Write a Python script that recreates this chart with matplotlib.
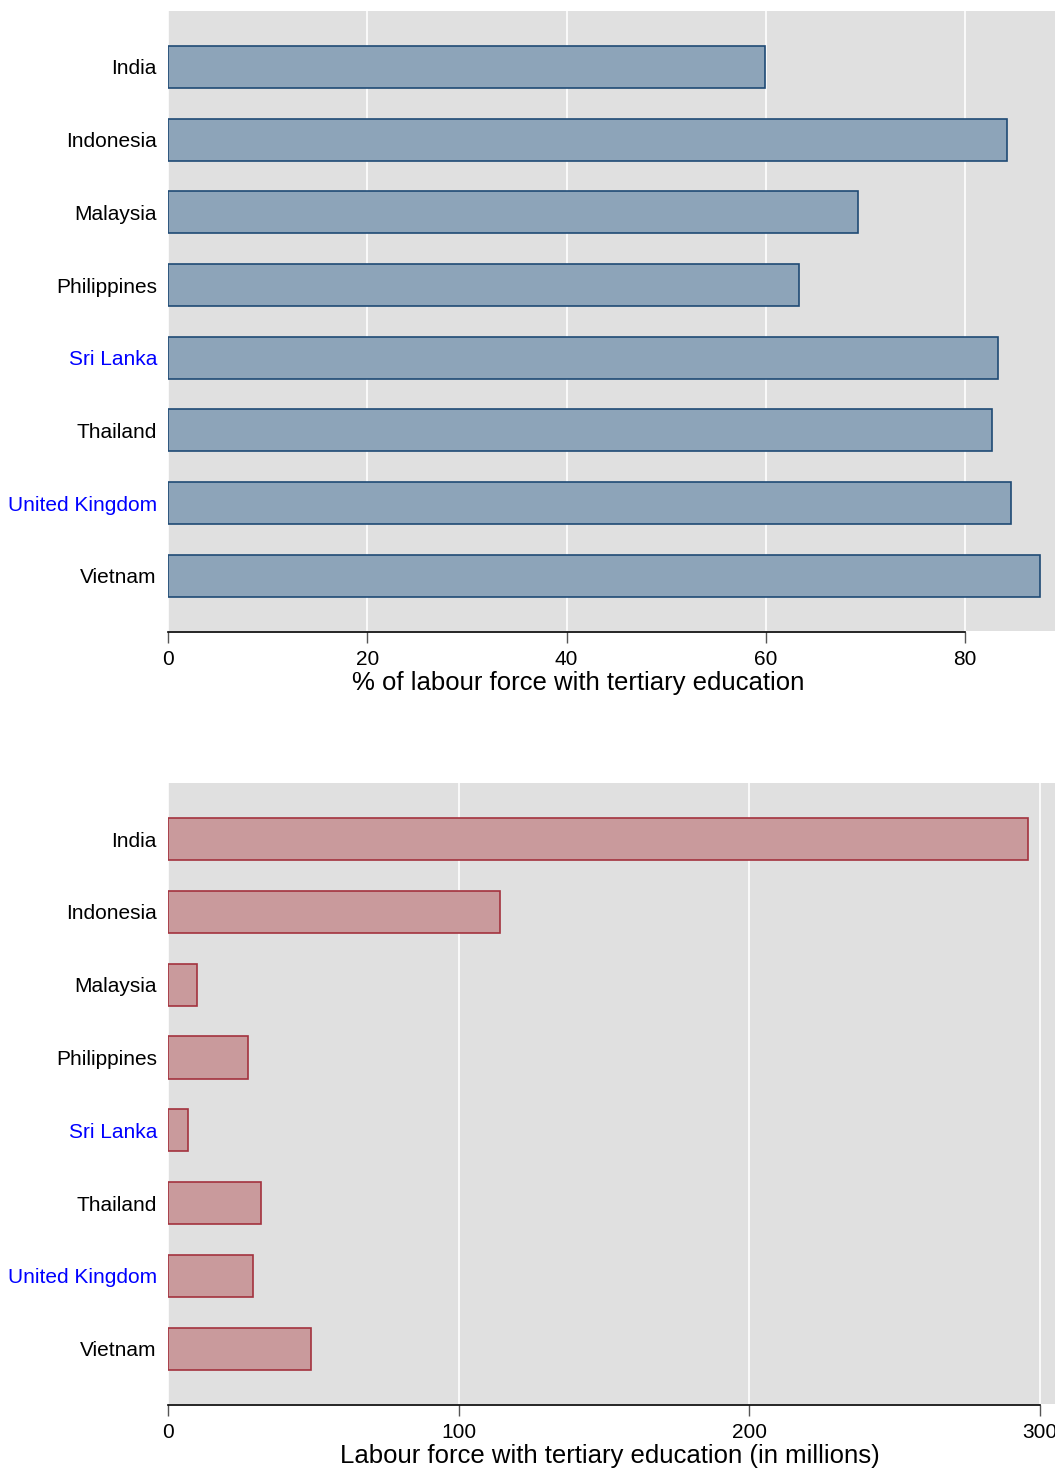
import matplotlib
matplotlib.use("Agg")
import matplotlib.pyplot as plt

plt.rcParams['font.family'] = ['Liberation Sans', 'DejaVu Sans']

# ---- data ----
countries = ['India', 'Indonesia', 'Malaysia', 'Philippines', 'Sri Lanka',
             'Thailand', 'United Kingdom', 'Vietnam']
pct_tertiary = [59.9, 84.2, 69.2, 63.3, 83.3, 82.7, 84.6, 87.5]
mil_tertiary = [296.0, 114.3, 10.0, 27.5, 6.9, 32.0, 29.3, 49.2]
highlight = ['Sri Lanka', 'United Kingdom']

pct_ticks = [0, 20, 40, 60, 80]
mil_ticks = [0, 100, 200, 300]

W, H = 1055, 1468
fig = plt.figure(figsize=(W / 100, H / 100), dpi=100)

left = 168 / W
width = 1 - left
ax1 = fig.add_axes([left, 1 - 631 / H, width, (631 - 11) / H])
ax2 = fig.add_axes([left, 1 - 1404 / H, width, (1404 - 783) / H])


def draw(ax, vals, ticks, xmax, face, edge, xlabel, label_x):
    ax.set_facecolor('#e0e0e0')
    ypos = list(range(len(countries)))
    ax.barh(ypos, vals, height=0.58, color=face, edgecolor=edge, linewidth=1.2, zorder=3)
    ax.set_ylim(len(countries) - 1 + 0.76, -0.77)
    ax.set_xlim(0, xmax)
    for s in ['top', 'right', 'left']:
        ax.spines[s].set_visible(False)
    ax.spines['bottom'].set_position(('outward', 1))
    ax.spines['bottom'].set_bounds(ticks[0], ticks[-1])
    ax.spines['bottom'].set_linewidth(1.2)
    ax.set_xticks(ticks)
    ax.set_xticklabels([str(t) for t in ticks])
    ax.set_yticks(ypos)
    ax.set_yticklabels(countries)
    for lab in ax.get_yticklabels():
        if lab.get_text() in highlight:
            lab.set_color('#0000ff')
    ax.tick_params(axis='y', length=0, pad=8, labelsize=15)
    ax.tick_params(axis='x', length=8, color='#555555', width=1, pad=5, labelsize=15)
    ax.grid(axis='x', color='white', linewidth=1.2, zorder=1)
    ax.set_axisbelow(True)
    ax.set_xlabel(xlabel, fontsize=18.5)
    ax.xaxis.set_label_coords(label_x, -0.065)


draw(ax1, pct_tertiary, pct_ticks, 89.0, '#8da4b9', '#1f4a75',
     '% of labour force with tertiary education', 0.462)
draw(ax2, mil_tertiary, mil_ticks, 305.2, '#c99a9c', '#a3323e',
     'Labour force with tertiary education (in millions)', 0.498)

fig.savefig('out.png', dpi=100)
